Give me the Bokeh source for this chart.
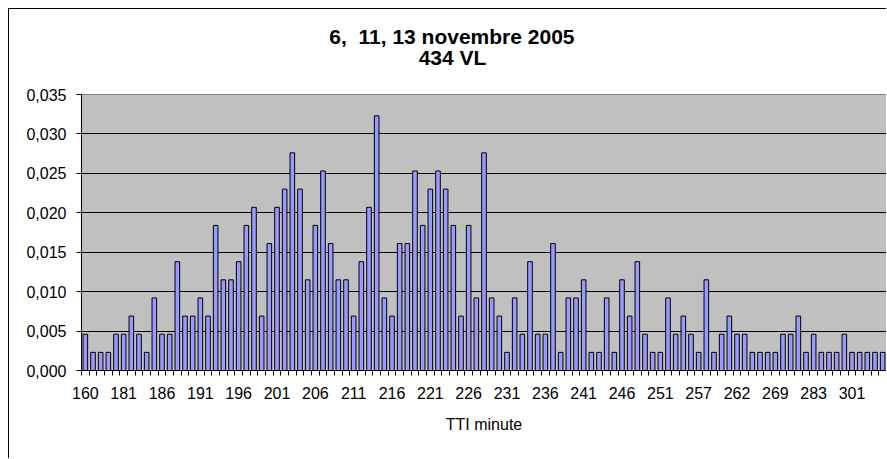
from bokeh.plotting import figure
from bokeh.models import Range1d, FixedTicker, CustomJSTickFormatter, Title, ColumnDataSource
from bokeh.embed import file_html
from bokeh.resources import INLINE

# ---- data ----
title_lines = ["6,\u00a0 11, 13 novembre 2005", "434 VL"]
x_title = "TTI minute"

# TTI minute categories (only every fifth one is labelled on the axis)
minutes = [160, 170, 174, 177, 179,
           181, 182, 183, 184, 185, 186, 187, 188, 189, 190,
           191, 192, 193, 194, 195, 196, 197, 198, 199, 200,
           201, 202, 203, 204, 205, 206, 207, 208, 209, 210,
           211, 212, 213, 214, 215, 216, 217, 218, 219, 220,
           221, 222, 223, 224, 225, 226, 227, 228, 229, 230,
           231, 232, 233, 234, 235, 236, 237, 238, 239, 240,
           241, 242, 243, 244, 245, 246, 247, 248, 249, 250,
           251, 252, 253, 254, 255, 257, 258, 259, 260, 261,
           262, 263, 264, 266, 268, 269, 271, 274, 278, 280,
           283, 286, 290, 294, 297, 301, 305, 310, 318, 330]

# share of the 434 vehicles per minute
shares = [0.0046, 0.0023, 0.0023, 0.0023, 0.0046, 0.0046, 0.0069, 0.0046, 0.0023, 0.0092,
          0.0046, 0.0046, 0.0138, 0.0069, 0.0069, 0.0092, 0.0069, 0.0184, 0.0115, 0.0115,
          0.0138, 0.0184, 0.0207, 0.0069, 0.0161, 0.0207, 0.0230, 0.0276, 0.0230, 0.0115,
          0.0184, 0.0253, 0.0161, 0.0115, 0.0115, 0.0069, 0.0138, 0.0207, 0.0323, 0.0092,
          0.0069, 0.0161, 0.0161, 0.0253, 0.0184, 0.0230, 0.0253, 0.0230, 0.0184, 0.0069,
          0.0184, 0.0092, 0.0276, 0.0092, 0.0069, 0.0023, 0.0092, 0.0046, 0.0138, 0.0046,
          0.0046, 0.0161, 0.0023, 0.0092, 0.0092, 0.0115, 0.0023, 0.0023, 0.0092, 0.0023,
          0.0115, 0.0069, 0.0138, 0.0046, 0.0023, 0.0023, 0.0092, 0.0046, 0.0069, 0.0046,
          0.0023, 0.0115, 0.0023, 0.0046, 0.0069, 0.0046, 0.0046, 0.0023, 0.0023, 0.0023,
          0.0023, 0.0046, 0.0046, 0.0069, 0.0023, 0.0046, 0.0023, 0.0023, 0.0023, 0.0046,
          0.0023, 0.0023, 0.0023, 0.0023, 0.0023]

y_ticks = [0.0, 0.005, 0.010, 0.015, 0.020, 0.025, 0.030, 0.035]
label_step = 5

# ---- figure ----
n = len(minutes)
positions = list(range(n))
source = ColumnDataSource(data=dict(pos=positions, share=shares, minute=minutes))

FONT = "Liberation Sans"

p = figure(width=878, height=450, output_backend="svg", toolbar_location=None,
           x_range=Range1d(-0.5, n - 0.5), y_range=Range1d(0, 0.035),
           min_border_left=72, min_border_right=1, min_border_top=85, min_border_bottom=89)
p.styles = {"margin-left": "8px", "margin-top": "8px",
            "border-left": "1px solid #000000", "border-top": "1px solid #000000"}

p.background_fill_color = "#C0C0C0"
p.border_fill_color = "#FFFFFF"
p.outline_line_color = "#808080"
p.outline_line_width = 1

p.vbar(x="pos", top="share", width=0.6, source=source,
       fill_color="#9999FF", line_color="#000000", line_width=1)

# y axis
p.yaxis.ticker = FixedTicker(ticks=y_ticks)
p.yaxis.formatter = CustomJSTickFormatter(code="return tick.toFixed(3).replace('.', ',');")
p.yaxis.axis_line_color = "#000000"
p.yaxis.major_tick_line_color = "#000000"
p.yaxis.major_tick_out = 5
p.yaxis.major_tick_in = 0
p.yaxis.minor_tick_line_color = None
p.yaxis.major_label_standoff = 10
p.yaxis.major_label_text_font = FONT
p.yaxis.major_label_text_font_size = "16px"
p.yaxis.major_label_text_color = "#000000"

p.ygrid.ticker = FixedTicker(ticks=y_ticks[1:-1])
p.ygrid.grid_line_color = "#000000"
p.ygrid.grid_line_width = 1
p.xgrid.visible = False

# x axis: labels every fifth category, tick marks between categories
label_pos = positions[::label_step]
p.xaxis.ticker = FixedTicker(ticks=label_pos, minor_ticks=[i - 0.5 for i in range(n + 1)])
p.xaxis.major_label_overrides = {i: str(minutes[i]) for i in label_pos}
p.xaxis.axis_line_color = "#000000"
p.xaxis.major_tick_line_color = None
p.xaxis.major_tick_out = 5
p.xaxis.major_tick_in = 0
p.xaxis.minor_tick_line_color = "#000000"
p.xaxis.minor_tick_out = 5
p.xaxis.minor_tick_in = 0
p.xaxis.major_label_standoff = 11
p.xaxis.major_label_text_font = FONT
p.xaxis.major_label_text_font_size = "16px"
p.xaxis.major_label_text_color = "#000000"
p.xaxis.axis_label = x_title
p.xaxis.axis_label_text_font = FONT
p.xaxis.axis_label_text_font_size = "16px"
p.xaxis.axis_label_text_font_style = "normal"
p.xaxis.axis_label_text_color = "#000000"
p.xaxis.axis_label_standoff = 14

# two-line title, centred on the chart (not on the plot area)
p.title.text = ""
p.title.visible = False

BOLD_W = {"0": .556, "1": .556, "2": .556, "3": .556, "4": .556, "5": .556, "6": .556,
          "7": .556, "8": .556, "9": .556, ",": .278, " ": .278, "\u00a0": .278,
          "n": .611, "o": .611, "v": .556, "e": .556, "m": .889, "b": .611, "r": .389,
          "V": .667, "L": .611}
TITLE_FS = 21
chart_center = 371   # px from the plot-area left edge
# line 2 sits closest to the plot area, line 1 is stacked on top of it
for line, standoff in [(title_lines[1], 52), (title_lines[0], -61)]:
    est_width = TITLE_FS * sum(BOLD_W.get(c, 0.6) for c in line)
    p.add_layout(Title(text=line, align="left", offset=chart_center - est_width / 2,
                       standoff=standoff, text_font=FONT, text_font_style="bold",
                       text_font_size=f"{TITLE_FS}px", text_color="#000000"), "above")

open("out.html", "w").write(file_html(p, INLINE))
